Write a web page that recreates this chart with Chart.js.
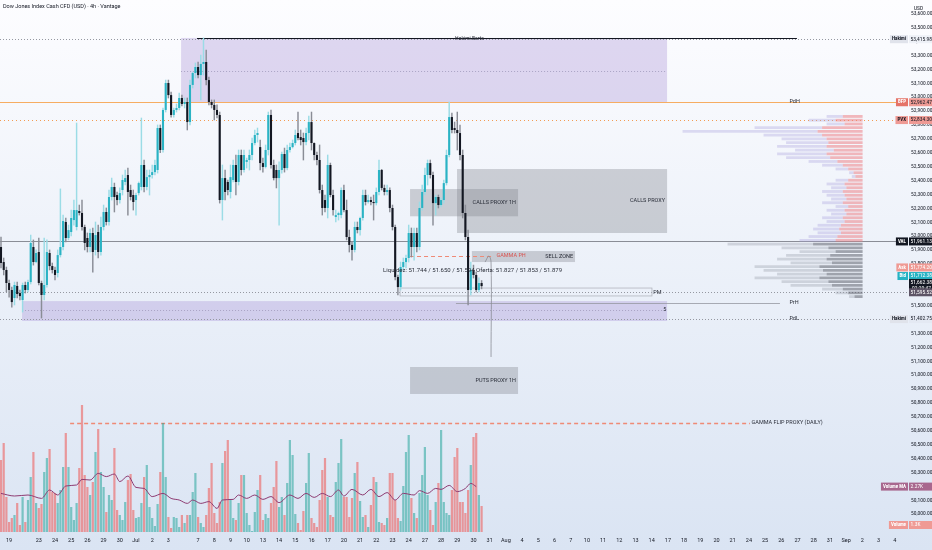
<!DOCTYPE html>
<html>
<head>
<meta charset="utf-8">
<title>Dow Jones Index Cash CFD 4h</title>
<script src="https://cdn.jsdelivr.net/npm/chart.js@4.4.1/dist/chart.umd.min.js"></script>
<style>
  html, body { margin: 0; padding: 0; background: #fff; }
  #wrap { width: 932px; height: 550px; }
</style>
</head>
<body>
<div id="wrap"><canvas id="chart" width="932" height="550"></canvas></div>
<script>
// x axis: day labels and the candle index where each day starts
const dayLabels = ['19','23','24','25','26','29','30','Jul','2','3','7','8','9','10','13','14','15','16','17','20',
  '21','22','23','24','27','28','29','30','31','Aug','4','5','6','7','10','11','12','13','14','17',
  '18','19','20','21','24','25','26','27','28','31','Sep','2','3','4','7'];
const dayIndex = [3,14,20,26,32,38,44,50,56,62,73,79,85,91,97,103,109,115,121,127,
  133,139,145,151,157,163,169,175,181,187,193,199,205,211,217,223,229,235,241,247,
  253,259,265,271,277,283,289,295,301,307,313,319,325,331,337];

// 4h candles [open, high, low, close]
const candles = [
  [51921,51993,51770,51806],[51813,51842,51720,51756],[51756,51777,51598,51662],[51662,51684,51561,51612],
  [51612,51633,51489,51525],[51554,51669,51504,51648],[51641,51669,51554,51583],[51590,51612,51540,51568],
  [51540,51662,51453,51648],[51648,51669,51590,51612],[51612,51684,51598,51669],[51669,52007,51655,51950],
  [51921,51972,51791,51813],[51813,51900,51806,51878],[51885,51986,51648,51662],[51662,51676,51410,51576],
  [51576,51986,51540,51648],[51648,51972,51633,51885],[51878,51900,51756,51784],[51784,51806,51734,51756],
  [51756,51777,51684,51720],[51734,51900,51705,51863],[51863,52339,51849,51921],[51921,52151,51900,52108],
  [52101,52130,51957,51986],[51986,52079,51972,52043],[52029,52187,52000,52130],[52115,52259,52079,52187],
  [52065,52813,52043,52187],[52180,52223,52151,52166],[52166,52259,52043,52065],[52065,52079,51900,51950],
  [51986,52022,51885,51921],[51921,52050,51885,52022],[52022,52058,51741,51885],[51900,52101,51863,52007],
  [52029,52079,51842,51885],[51885,52137,51863,52065],[52065,52223,52043,52173],[52173,52202,52079,52101],
  [52101,52331,52079,52281],[52281,52417,52259,52353],[52353,52381,52173,52281],[52295,52317,52223,52259],
  [52259,52346,52237,52309],[52331,52439,52295,52403],[52389,52475,52367,52417],[52439,52489,52151,52317],
  [52331,52367,52259,52281],[52295,52331,52187,52245],[52259,52309,52151,52295],[52309,52389,52295,52381],
  [52353,52849,52331,52511],[52511,52547,52317,52353],[52353,52475,52331,52424],[52424,52475,52295,52439],
  [52439,52511,52417,52460],[52460,52547,52439,52511],[52475,52799,52453,52777],[52777,52799,52600,52619],
  [52619,52921,52604,52907],[52907,53122,52892,53101],[53101,53122,52993,53014],[53014,53036,52856,52871],
  [52871,52921,52856,52907],[52907,52950,52892,52921],[52921,53029,52907,52993],[52993,53014,52936,52950],
  [52950,52993,52921,52964],[52964,52993,52763,52820],[52820,53122,52799,53087],[53087,53180,53065,53173],
  [53173,53245,53137,53216],[53216,53252,53137,53158],[53158,53302,52979,53238],[53238,53425,53158,53252],
  [53252,53338,53087,53122],[53122,53144,52943,52964],[52964,52979,52921,52943],[52943,52979,52835,52907],
  [52907,52943,52849,52871],[52871,52892,52237,52259],[52259,52511,52115,52417],[52417,52475,52259,52317],
  [52389,52403,52295,52331],[52317,52511,52273,52424],[52403,52547,52389,52511],[52511,52583,52295,52389],
  [52389,52619,52367,52583],[52583,52619,52439,52475],[52475,52619,52460,52583],[52533,52561,52489,52547],
  [52547,52619,52475,52583],[52583,52705,52547,52669],[52669,52763,52655,52727],[52727,52777,52676,52741],
  [52640,52691,52475,52525],[52525,52561,52460,52497],[52497,52655,52489,52619],[52619,52892,52583,52871],
  [52871,52907,52489,52511],[52511,52547,52403,52417],[52475,52511,52346,52417],[52417,52533,52079,52475],
  [52475,52604,52453,52590],[52590,52633,52460,52489],[52489,52655,52475,52619],[52619,52669,52604,52640],
  [52640,52691,52633,52669],[52669,52763,52655,52727],[52741,52892,52691,52705],[52712,52763,52655,52691],
  [52705,52741,52547,52676],[52676,52777,52655,52741],[52741,52863,52691,52820],[52820,52892,52619,52669],
  [52669,52670,52547,52583],[52583,52604,52511,52547],[52547,52655,52309,52331],[52331,52367,52151,52202],
  [52259,52295,52173,52202],[52202,52583,52130,52511],[52511,52525,52281,52295],[52295,52331,52151,52187],
  [52137,52187,52101,52151],[52151,52173,52115,52165],[52151,52346,52130,52331],[52331,52367,52173,52187],
  [52187,52259,51972,51993],[51993,52043,51885,51936],[51936,51957,51827,51900],[51900,52101,51885,52065],
  [52065,52101,52022,52043],[52043,52137,52007,52130],[52130,52331,52115,52295],[52295,52331,52223,52245],
  [52245,52295,52237,52259],[52259,52281,52223,52245],[52245,52295,52115,52237],[52237,52346,52223,52317],
  [52317,52547,52295,52475],[52475,52480,52331,52346],[52346,52367,52295,52317],[52317,52367,52295,52331],
  [52331,52346,52173,52202],[52202,52223,52043,52065],[52065,52079,51684,51705],[51705,51720,51576,51633],
  [51633,51813,51612,51777],[51777,51842,51756,51813],[51813,51863,51770,51842],[51842,52079,51813,52022],
  [52022,52058,51849,51921],[51921,52058,51827,52022],[52022,52058,51885,51921],[51921,52245,51900,52202],
  [52202,52367,52187,52317],[52317,52489,52295,52439],[52439,52547,52367,52525],[52525,52547,52417,52439],
  [52439,52460,52079,52237],[52237,52295,52151,52281],[52281,52295,52202,52223],[52223,52273,52209,52259],
  [52259,52403,52237,52381],[52381,52619,52367,52583],[52583,52964,52569,52856],[52856,52885,52741,52763],
  [52777,52820,52741,52763],[52763,52892,52619,52741],[52741,52799,52547,52583],[52583,52619,52130,52166],
  [52166,52223,51972,51993],[51993,52043,51504,51612],[51612,51813,51576,51756],[51756,51791,51698,51720],
  [51720,51741,51598,51612],[51612,51700,51598,51662],[51662,51680,51620,51640]
];

// volume per candle, thousands
const volumes = [
  3.6,4.45,1.75,0.5,0.7,0.85,1.45,0.35,1.75,0.5,1.6,2.75,4.0,1.45,1.2,1.4,3.0,3.7,4.15,2.0,
  1.95,1.45,2.1,3.25,4.95,3.25,1.25,0.6,1.45,3.2,6.35,2.85,2.25,1.85,2.5,4.0,5.15,3.0,2.25,1.0,
  1.85,1.6,4.2,1.1,0.85,0.6,1.5,2.6,2.9,1.1,0.7,0.75,1.45,2.75,3.35,1.25,0.7,0.3,1.4,3.0,
  5.45,2.75,0.75,0.2,0.75,0.7,0.25,0.85,0.45,0.85,0.85,2.0,2.95,0.75,0.45,0.25,0.85,2.2,3.45,0.95,
  0.45,1.5,3.45,4.05,4.6,1.6,0.7,0.6,1.45,2.85,2.85,0.95,0.35,0.05,1.0,2.1,2.85,0.6,0.9,0.7,
  1.45,2.25,3.55,1.25,1.75,0.85,2.45,4.6,3.85,0.9,0.45,0.1,1.05,2.45,3.95,0.7,0.45,0.25,1.6,3.1,
  3.7,1.75,0.85,0.75,2.5,3.45,4.65,1.75,1.75,0.75,1.7,2.95,3.5,1.55,0.75,0.85,0.25,1.35,2.75,2.5,
  0.5,0.45,0.35,0.7,2.95,2.95,1.6,0.7,0.55,2.3,4.0,4.85,1.7,0.95,0.7,1.95,2.85,4.25,1.85,1.1,
  0.35,1.5,2.45,5.1,1.5,0.95,0.85,2.1,3.75,4.2,1.5,1.5,0.95,2.1,3.35,4.75,4.95,1.85,1.3
];

// volume moving average, read at these candle indexes
const maIndex = [0,5,10,15,18,21,24,28,30,33,36,39,42,44,47,50,53,56,60,63,66,69,71,74,77,80,82,86,88,91,
  94,97,100,103,107,110,113,116,119,122,125,127,130,134,137,140,143,146,149,153,155,158,161,163,166,169,172,174,176];
const maValues = [1.93,1.80,1.85,1.68,2.10,1.85,2.30,2.35,2.63,2.60,2.93,2.77,2.90,2.52,2.80,2.23,2.18,1.77,1.93,1.68,
  1.60,1.43,1.60,1.43,1.52,1.18,1.60,1.63,1.85,1.68,1.85,1.63,1.77,1.47,1.85,1.68,1.93,1.73,1.93,1.77,
  2.10,1.80,2.13,1.85,2.13,1.77,1.97,1.60,1.93,1.85,2.07,1.93,2.18,2.13,2.33,2.02,2.18,2.43,2.27];

// visible range volume profile rows (price), inner and outer part of each row
const profilePrices = [52980,52950,52920,52890,52860,52830,52800,52770,52740,52710,52680,52650,52620,52590,52560,52530,
  52500,52470,52440,52410,52380,52350,52320,52290,52260,52230,52200,52170,52140,52110,52080,52050,52020,51990,51960,
  51930,51900,51870,51840,51810,51780,51750,51720,51690,51660,51630,51600,51570,51540];
const profileInner = [22,30,20,45,50,45,40,38,40,32,40,36,28,22,16,10,8,16,20,18,22,20,18,22,16,20,18,22,20,24,
  26,24,28,30,55,38,30,36,40,34,48,44,40,48,38,34,22,16,9];
const profileOuter = [18,30,20,75,150,65,50,47,55,43,55,49,32,23,14,5,4,14,20,17,23,20,17,23,14,20,17,23,20,26,
  29,26,32,40,95,52,40,49,55,46,72,66,55,72,52,46,23,14,6];

// zones: [from index, to index, top price, bottom price]
const purpleZones = [[66.7, 246.7, 53425, 52964], [7.8, 246.7, 51532, 51389]];
// gray proxy boxes: [from, to, top, bottom, label]
const proxyBoxes = [
  [168.9, 246.7, 52482, 52022, 'CALLS PROXY'],
  [151.5, 191.5, 52338, 52142, 'CALLS PROXY 1H'],
  [174.4, 212.6, 51892, 51813, 'SELL ZONE'],
  [151.5, 191.5, 51058, 50864, 'PUTS PROXY 1H']
];

// key levels
const hakimiHigh = 53415.98, hakimiLow = 51402.75;
const prevDayHigh = 52962.47, pvxLevel = 52834.30, valLevel = 51961.13;
const pmLevel = 51595.52, prhLevel = 51518, gammaPh = 51856, gammaFlip = 50655;
const bidPrice = 51712.38, askPrice = 51774.20, lastPrice = 51662.38;

// drawn arrow from the last candles
const arrowIndex = [179.3, 180.7, 181.5, 181.5];
const arrowPrice = [51813, 51856, 51813, 51130];

const liquidityText = 'Liquidez: 51.744 / 51.650 / 51.594 Oferta: 51.827 / 51.853 / 51.879';

const UP = '#2ab3c4', UP_WICK = '#9bdce6', DOWN = '#131722', DOWN_WICK = '#8a8d96';
const FONT = 'Roboto, "DejaVu Sans", sans-serif';
const AXIS_FONT = '"Liberation Sans Narrow", "Roboto Condensed", Roboto, sans-serif';

const isUp = candles.map(c => c[3] >= c[0]);
const fmt = v => v.toLocaleString('en-US', { minimumFractionDigits: 2, maximumFractionDigits: 2 });

// draw boxes, levels, texts and price badges from the scales
const overlay = {
  id: 'overlay',
  beforeDraw(chart) {
    const ctx = chart.ctx;
    const g = ctx.createLinearGradient(0, 0, 0, chart.height);
    g.addColorStop(0, '#fdfdff');
    g.addColorStop(1, '#dae4f3');
    ctx.save();
    ctx.fillStyle = g;
    ctx.fillRect(0, 0, chart.width, chart.height);
    ctx.restore();
  },
  beforeDatasetsDraw(chart) {
    const ctx = chart.ctx, a = chart.chartArea;
    const X = v => chart.scales.x.getPixelForValue(v);
    const Y = v => chart.scales.y.getPixelForValue(v);
    ctx.save();
    ctx.beginPath();
    ctx.rect(a.left, a.top, a.right - a.left, a.bottom - a.top);
    ctx.clip();

    purpleZones.forEach(z => {
      ctx.fillStyle = 'rgba(155,130,210,0.3)';
      ctx.fillRect(X(z[0]), Y(z[2]), X(z[1]) - X(z[0]), Y(z[3]) - Y(z[2]));
    });
    proxyBoxes.forEach(b => {
      ctx.fillStyle = 'rgba(120,123,134,0.33)';
      ctx.fillRect(X(b[0]), Y(b[2]), X(b[1]) - X(b[0]), Y(b[3]) - Y(b[2]));
    });

    const hline = (price, x0, x1, color, dash, width) => {
      ctx.beginPath();
      ctx.setLineDash(dash);
      ctx.strokeStyle = color;
      ctx.lineWidth = width;
      ctx.moveTo(x0, Math.round(Y(price)) + 0.5);
      ctx.lineTo(x1, Math.round(Y(price)) + 0.5);
      ctx.stroke();
    };
    // full width levels
    hline(hakimiHigh, a.left, a.right, '#9598a1', [1, 2], 1);
    hline(hakimiLow, a.left, a.right, '#9598a1', [1, 2], 1);
    hline(prevDayHigh, a.left, a.right, '#f6ad62', [], 1.2);
    hline(pvxLevel, a.left, a.right, '#f29b52', [1, 3], 1.2);
    hline(valLevel, a.left, a.right, '#8a8d96', [], 1);
    hline(pmLevel, a.left, a.right, '#9598a1', [1, 2], 1);
    // partial levels
    hline(53426, X(72.6), X(294.8), '#131722', [], 1);
    hline(53187, X(66.7), X(246.7), '#a9a3c4', [1, 2], 1);
    hline(51468, X(7.8), X(246.7), '#a9a3c4', [1, 2], 1);
    hline(prhLevel, X(168.5), X(288.5), '#9598a1', [], 0.8);
    hline(gammaPh, X(151.5), X(182.2), '#ef8a76', [4, 3], 1);
    hline(gammaFlip, X(25.6), X(277.4), '#ef8a76', [4, 3], 1.3);
    // PM range outline
    ctx.setLineDash([]);
    ctx.strokeStyle = '#b2b5be';
    ctx.lineWidth = 0.8;
    ctx.strokeRect(X(147.8), Y(51626), X(241.1) - X(147.8), Y(51569) - Y(51626));
    ctx.restore();
  },
  afterDatasetsDraw(chart) {
    const ctx = chart.ctx;
    const X = v => chart.scales.x.getPixelForValue(v);
    const Y = v => chart.scales.y.getPixelForValue(v);
    ctx.save();
    ctx.textBaseline = 'middle';
    ctx.font = '5.5px ' + FONT;
    ctx.fillStyle = '#2a2e39';
    ctx.textAlign = 'right';
    proxyBoxes.forEach(b => {
      ctx.fillText(b[4], X(b[1]) - 2, (Y(b[2]) + Y(b[3])) / 2);
    });
    ctx.textAlign = 'left';
    ctx.fillText('PdH', X(292), Y(prevDayHigh) - 1);
    ctx.fillText('PrH', X(292), Y(prhLevel));
    ctx.fillText('PdL', X(292), Y(hakimiLow));
    ctx.fillText('PM', X(241.6), Y(pmLevel));
    ctx.fillText('5', X(245.3), Y(51468));
    ctx.fillText('GAMMA FLIP PROXY (DAILY)', X(278), Y(gammaFlip));
    ctx.fillStyle = '#d9534f';
    ctx.fillText('GAMMA PH', X(183.5), Y(gammaPh));
    ctx.fillStyle = '#2a2e39';
    ctx.font = '6px ' + FONT;
    ctx.fillText(liquidityText, X(141.5), Y(51755));
    // label on the top black line
    ctx.font = '5px ' + FONT;
    ctx.textAlign = 'center';
    ctx.fillText('Hakimi Berts', X(173.5), Y(53426) + 0.5);
    // chart title
    ctx.textAlign = 'left';
    ctx.font = '5.5px ' + FONT;
    ctx.fillStyle = '#131722';
    ctx.fillText('Dow Jones Index Cash CFD (USD) \u00b7 4h \u00b7 Vantage', 3, 7);
    ctx.restore();
  },
  afterDraw(chart) {
    const ctx = chart.ctx, a = chart.chartArea;
    const Y = v => chart.scales.y.getPixelForValue(v);
    const YV = v => chart.scales.yv.getPixelForValue(v);
    ctx.save();
    ctx.textBaseline = 'middle';
    ctx.font = '5.5px ' + AXIS_FONT;
    ctx.fillStyle = '#131722';
    ctx.textAlign = 'left';
    ctx.fillText('USD', a.right + 6, 9);

    const badge = (y, text, bg, fg, tag, tagBg, tagFg, lines) => {
      const h = lines ? 14 : 8;
      ctx.font = '5.5px ' + AXIS_FONT;
      if (bg) {
        ctx.fillStyle = bg;
        ctx.fillRect(a.right + 1, y - 4, 23, h);
      }
      ctx.fillStyle = fg;
      ctx.textAlign = 'left';
      ctx.fillText(text, a.right + 2.5, y);
      if (lines) ctx.fillText(lines, a.right + 4, y + 6);
      if (tag) {
        ctx.font = 'bold 5px ' + AXIS_FONT;
        const w = ctx.measureText(tag).width + 4;
        ctx.fillStyle = tagBg;
        ctx.fillRect(a.right - w, y - 4, w, 8);
        ctx.fillStyle = tagFg;
        ctx.fillText(tag, a.right - w + 2, y);
      }
    };
    badge(Y(hakimiHigh), fmt(hakimiHigh), '#eef1f7', '#131722', 'Hakimi', '#e0e3eb', '#131722');
    badge(Y(prevDayHigh), fmt(prevDayHigh), '#ef9a94', '#131722', 'BFP', '#e57368', '#fff');
    badge(Y(pvxLevel), fmt(pvxLevel), '#ef9a94', '#131722', 'PVX', '#ef9a94', '#131722');
    badge(Y(valLevel), fmt(valLevel), '#131722', '#fff', 'VAL', '#131722', '#fff');
    badge(Y(askPrice), fmt(askPrice), '#ef9a94', '#fff', 'Ask', '#ef9a94', '#fff');
    badge(Y(bidPrice), fmt(bidPrice), '#26b3c4', '#fff', 'Bid', '#26b3c4', '#fff');
    badge(Y(lastPrice), fmt(lastPrice), '#131722', '#fff', null, null, null, '02:20:47');
    badge(Y(pmLevel), fmt(pmLevel), '#5d5466', '#fff');
    badge(Y(hakimiLow), fmt(hakimiLow), '#e4e9f3', '#131722', 'Hakimi', '#e0e3eb', '#131722');
    const lastMa = maValues[maValues.length - 1];
    badge(YV(lastMa), lastMa.toFixed(2) + 'K', '#a8678e', '#fff', 'Volume MA', '#a8678e', '#fff');
    const lastVol = volumes[volumes.length - 1];
    badge(a.bottom - 7, lastVol.toFixed(1) + 'K', '#ef9a94', '#fff', 'Volume', '#ef9a94', '#fff');
    ctx.restore();
  }
};

const ctx = document.getElementById('chart').getContext('2d');
new Chart(ctx, {
  type: 'bar',
  data: {
    datasets: [
      {
        // volume profile, saturated part next to the price axis
        label: 'profile inner',
        indexAxis: 'y',
        xAxisID: 'xp', yAxisID: 'yp',
        stack: 'vp', grouped: false,
        data: profilePrices.map((p, i) => ({ x: profileInner[i], y: p })),
        backgroundColor: profilePrices.map(p => p >= valLevel ? 'rgba(236,130,135,0.55)' : 'rgba(95,99,110,0.55)'),
        barPercentage: 0.75, categoryPercentage: 1,
        order: 5
      },
      {
        label: 'profile outer',
        indexAxis: 'y',
        xAxisID: 'xp', yAxisID: 'yp',
        stack: 'vp', grouped: false,
        data: profilePrices.map((p, i) => ({ x: profileOuter[i], y: p })),
        backgroundColor: profilePrices.map(p => p >= valLevel ? 'rgba(168,160,222,0.35)' : 'rgba(150,155,166,0.35)'),
        barPercentage: 0.75, categoryPercentage: 1,
        order: 6
      },
      {
        label: 'Volume',
        xAxisID: 'x', yAxisID: 'yv',
        grouped: false,
        data: volumes.map((v, i) => ({ x: i, y: v })),
        backgroundColor: isUp.map(u => u ? 'rgba(38,166,154,0.55)' : 'rgba(239,83,80,0.55)'),
        barPercentage: 0.82, categoryPercentage: 1,
        order: 4
      },
      {
        label: 'Volume MA',
        type: 'line',
        xAxisID: 'x', yAxisID: 'yv',
        data: maIndex.map((v, i) => ({ x: v, y: maValues[i] })),
        borderColor: '#8e3b72',
        borderWidth: 1,
        pointRadius: 0,
        cubicInterpolationMode: 'monotone',
        order: 1
      },
      {
        label: 'wick',
        xAxisID: 'x', yAxisID: 'y',
        grouped: false,
        data: candles.map((c, i) => ({ x: i, y: [c[2], c[1]] })),
        backgroundColor: isUp.map(u => u ? UP_WICK : DOWN_WICK),
        barThickness: 0.8,
        order: 3
      },
      {
        label: 'body',
        xAxisID: 'x', yAxisID: 'y',
        grouped: false,
        data: candles.map((c, i) => ({ x: i, y: [c[0], c[3]] })),
        backgroundColor: isUp.map(u => u ? UP : DOWN),
        barPercentage: 0.78, categoryPercentage: 1,
        minBarLength: 1,
        order: 2
      },
      {
        label: 'arrow',
        type: 'line',
        xAxisID: 'x', yAxisID: 'y',
        data: arrowIndex.map((v, i) => ({ x: v, y: arrowPrice[i] })),
        borderColor: '#8a8d96',
        borderWidth: 0.8,
        pointRadius: 0,
        tension: 0.4,
        order: 0
      }
    ]
  },
  options: {
    responsive: false,
    animation: false,
    layout: { padding: 0 },
    plugins: { legend: { display: false }, tooltip: { enabled: false } },
    scales: {
      x: {
        type: 'linear', position: 'bottom',
        min: -0.37, max: 335.93, offset: false,
        grid: { display: false, drawTicks: false }, border: { display: false },
        afterFit(scale) {
          scale.height = 18;
          scale.paddingLeft = 0;
          scale.paddingRight = 0;
        },
        afterBuildTicks(scale) {
          scale.ticks = dayIndex.filter(v => v <= scale.max).map(v => ({ value: v }));
        },
        ticks: {
          autoSkip: false, maxRotation: 0, padding: 5,
          color: '#131722', font: { size: 5.5, family: FONT },
          callback: v => dayLabels[dayIndex.indexOf(v)]
        }
      },
      y: {
        type: 'linear', position: 'right',
        min: 49871, max: 53698,
        grid: { display: false, drawTicks: false }, border: { display: false },
        afterFit(scale) {
          scale.width = 24;
          scale.paddingTop = 0;
          scale.paddingBottom = 0;
        },
        afterBuildTicks(scale) {
          scale.ticks = scale.ticks.filter(t => Math.round(t.value) % 100 === 0);
        },
        ticks: {
          stepSize: 100, padding: 3,
          color: '#131722', font: { size: 5.5, family: AXIS_FONT },
          callback: v => fmt(v)
        }
      },
      yv: { type: 'linear', display: false, min: 0, max: 26.6 },
      xp: { type: 'linear', axis: 'x', display: false, reverse: true, stacked: true, min: 0, max: 908 },
      yp: { type: 'linear', axis: 'y', display: false, min: 49871, max: 53698 }
    }
  },
  plugins: [overlay]
});
</script>
</body>
</html>
